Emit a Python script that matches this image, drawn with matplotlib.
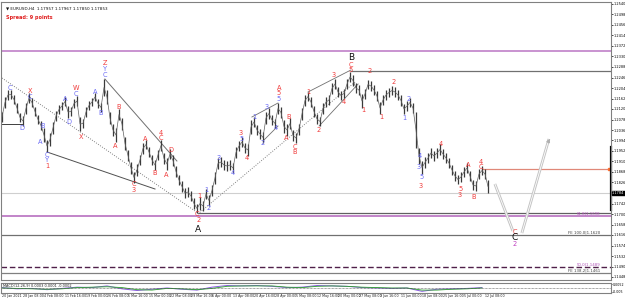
import matplotlib
matplotlib.use('Agg')
import matplotlib.pyplot as plt
import numpy as np

# EURUSD H4 bars (one bar per 3 px in the screenshot)
highs = [1.2108, 1.2168, 1.2196, 1.2196, 1.2176, 1.2144, 1.2104, 1.2092, 1.2144, 1.2184,
         1.2164, 1.2128, 1.2096, 1.2072, 1.2044, 1.1996, 1.2024, 1.2068, 1.2112, 1.2136,
         1.2148, 1.2168, 1.2132, 1.2128, 1.2160, 1.2172, 1.2088, 1.2080, 1.2128, 1.2152,
         1.2164, 1.2184, 1.2160, 1.2144, 1.2240, 1.2196, 1.2108, 1.2060, 1.2044, 1.2120,
         1.2084, 1.2008, 1.1956, 1.1908, 1.1868, 1.1900, 1.1936, 1.1984, 1.1996, 1.1968,
         1.1936, 1.1916, 1.1956, 1.1996, 1.1944, 1.1924, 1.1960, 1.1936, 1.1892, 1.1856,
         1.1832, 1.1804, 1.1808, 1.1792, 1.1764, 1.1740, 1.1768, 1.1752, 1.1800, 1.1776,
         1.1816, 1.1868, 1.1924, 1.1928, 1.1916, 1.1912, 1.1916, 1.1904, 1.1968, 1.1992,
         1.2008, 1.1984, 1.1980, 1.2076, 1.2088, 1.2056, 1.2040, 1.2028, 1.2108, 1.2124,
         1.2096, 1.2080, 1.2144, 1.2128, 1.2076, 1.2060, 1.2084, 1.2036, 1.2024, 1.2060,
         1.2124, 1.2176, 1.2188, 1.2168, 1.2132, 1.2100, 1.2088, 1.2144, 1.2168, 1.2176,
         1.2224, 1.2240, 1.2208, 1.2192, 1.2200, 1.2240, 1.2268, 1.2256, 1.2224, 1.2216,
         1.2180, 1.2200, 1.2236, 1.2232, 1.2216, 1.2192, 1.2148, 1.2176, 1.2196, 1.2204,
         1.2212, 1.2208, 1.2196, 1.2176, 1.2140, 1.2152, 1.2164, 1.2144, 1.2108, 1.1964,
         1.1912, 1.1928, 1.1944, 1.1964, 1.1952, 1.1964, 1.1980, 1.1960, 1.1944, 1.1924,
         1.1896, 1.1872, 1.1856, 1.1868, 1.1888, 1.1904, 1.1872, 1.1836, 1.1832, 1.1880,
         1.1892, 1.1880, 1.1836]
lows = [1.2068, 1.2124, 1.2156, 1.2160, 1.2140, 1.2104, 1.2068, 1.2052, 1.2100, 1.2144,
        1.2128, 1.2092, 1.2060, 1.2036, 1.1988, 1.1948, 1.1972, 1.2020, 1.2072, 1.2100,
        1.2116, 1.2132, 1.2084, 1.2092, 1.2124, 1.2132, 1.2032, 1.2044, 1.2088, 1.2116,
        1.2132, 1.2152, 1.2124, 1.2108, 1.2172, 1.2140, 1.2060, 1.2012, 1.1988, 1.2076,
        1.2036, 1.1956, 1.1912, 1.1860, 1.1824, 1.1852, 1.1896, 1.1940, 1.1960, 1.1928,
        1.1896, 1.1876, 1.1916, 1.1952, 1.1900, 1.1876, 1.1920, 1.1892, 1.1848, 1.1816,
        1.1788, 1.1764, 1.1768, 1.1752, 1.1720, 1.1704, 1.1716, 1.1712, 1.1760, 1.1732,
        1.1772, 1.1820, 1.1880, 1.1888, 1.1876, 1.1872, 1.1876, 1.1864, 1.1924, 1.1952,
        1.1968, 1.1944, 1.1932, 1.2020, 1.2048, 1.2016, 1.2000, 1.1984, 1.2060, 1.2080,
        1.2056, 1.2044, 1.2100, 1.2084, 1.2024, 1.2012, 1.2040, 1.1992, 1.1984, 1.2016,
        1.2076, 1.2132, 1.2152, 1.2128, 1.2088, 1.2060, 1.2052, 1.2100, 1.2128, 1.2136,
        1.2180, 1.2200, 1.2168, 1.2156, 1.2164, 1.2200, 1.2228, 1.2212, 1.2184, 1.2176,
        1.2124, 1.2160, 1.2200, 1.2192, 1.2176, 1.2152, 1.2100, 1.2136, 1.2156, 1.2168,
        1.2176, 1.2168, 1.2156, 1.2132, 1.2100, 1.2112, 1.2128, 1.2104, 1.1964, 1.1900,
        1.1860, 1.1884, 1.1904, 1.1924, 1.1912, 1.1924, 1.1936, 1.1920, 1.1904, 1.1884,
        1.1856, 1.1832, 1.1820, 1.1828, 1.1848, 1.1864, 1.1832, 1.1796, 1.1792, 1.1840,
        1.1856, 1.1840, 1.1784]

# elliott wave labels: bar index, price, text, colour
wave_x = [2.7, 6.7, 9.3, 9.3, 13.7, 12.7, 15, 15, 15, 21, 22.3, 24.7, 24.7, 26.3, 31, 33,
          34.3, 34.3, 34.3, 37.7, 39, 44, 44, 47.7, 51, 53, 53, 54.7, 56.3, 65.7, 65, 65.7,
          65.3, 68, 69, 72.3, 77, 79.7, 79.7, 81.7, 84, 87, 88.3, 91.3, 92.3, 92.3, 92.3,
          94.7, 95.7, 97.7, 97.7, 102, 105.7, 110.7, 114, 116.3, 116.3, 116.3, 120.3, 122.7,
          126.3, 130.7, 134, 135.7, 139.3, 139, 139.7, 139.7, 146.3, 152.7, 152.7, 155.3,
          157.3, 159.7, 159.7, 171, 171, 171]
wave_y = [1.2204, 1.2044, 1.2192, 1.2168, 1.2052, 1.1988, 1.1936, 1.1916, 1.1892, 1.2160,
          1.2068, 1.2204, 1.2180, 1.2008, 1.2188, 1.2104, 1.2304, 1.2280, 1.2256, 1.1972,
          1.2128, 1.1820, 1.1796, 1.2000, 1.1864, 1.2024, 1.2004, 1.1856, 1.1956, 1.1772,
          1.1700, 1.1676, 1.1636, 1.1796, 1.1724, 1.1924, 1.1864, 1.2024, 1.2000, 1.1924,
          1.2088, 1.1984, 1.2128, 1.2044, 1.2204, 1.2184, 1.2160, 1.2004, 1.2088, 1.1968,
          1.1948, 1.2188, 1.2036, 1.2256, 1.2148, 1.2324, 1.2296, 1.2276, 1.2116, 1.2272,
          1.2088, 1.2228, 1.2084, 1.2160, 1.1932, 1.1888, 1.1848, 1.1812, 1.1980, 1.1800,
          1.1776, 1.1896, 1.1768, 1.1908, 1.1888, 1.1628, 1.1604, 1.1580]
wave_txt = ['C', 'D', 'X', 'C', 'B', 'A', 'C', 'Y', '1', 'A', 'D', 'W', 'C', 'X', 'A', 'B',
            'Z', 'Y', 'C', 'A', 'B', 'C', '3', 'A', 'B', '4', 'C', 'A', 'D', '1', 'C', '2',
            'A', '1', '2', '3', '4', '3', '5', '4', '1', '2', '3', '4', 'A', '5', '5',
            'A', 'B', 'C', 'B', '1', '2', '3', '4', 'B', 'C', '5', '1', '2',
            '1', '2', '1', '2', '4', '3', '5', '3', '4', '5', '3', 'A',
            'B', '4', 'C', 'C', 'C', '2']
wave_col = ['b', 'b', 'r', 'b', 'b', 'b', 'b', 'b', 'r', 'b', 'b', 'r', 'b', 'r', 'b', 'b',
            'r', 'b', 'b', 'r', 'r', 'r', 'r', 'r', 'r', 'r', 'r', 'r', 'r', 'r', 'r', 'r',
            'k', 'b', 'b', 'b', 'b', 'r', 'b', 'r', 'b', 'b', 'b', 'b', 'r', 'r', 'b',
            'r', 'r', 'r', 'r', 'r', 'r', 'r', 'r', 'k', 'r', 'r', 'r', 'r',
            'r', 'r', 'b', 'b', 'b', 'b', 'b', 'r', 'r', 'r', 'r', 'r',
            'r', 'r', 'r', 'r', 'k', 'm']

price_ticks = [1.2540, 1.2498, 1.2456, 1.2414, 1.2372, 1.2330, 1.2288, 1.2246, 1.2204,
               1.2162, 1.2120, 1.2078, 1.2036, 1.1994, 1.1952, 1.1910, 1.1868, 1.1826,
               1.1742, 1.1700, 1.1658, 1.1616, 1.1574, 1.1532, 1.1490, 1.1448]
last_price = 1.1784

date_labels = ['20 Jan 2021', '28 Jan 08:00', '4 Feb 08:00', '11 Feb 16:00', '19 Feb 00:00',
               '26 Feb 08:00', '5 Mar 16:00', '15 Mar 00:00', '22 Mar 08:00', '29 Mar 16:00',
               '6 Apr 00:00', '13 Apr 08:00', '20 Apr 16:00', '28 Apr 00:00', '5 May 08:00',
               '12 May 16:00', '20 May 00:00', '27 May 08:00', '3 Jun 16:00', '11 Jun 00:00',
               '18 Jun 08:00', '25 Jun 16:00', '5 Jul 00:00', '12 Jul 08:00']

# oscillator in sub window (one value per 5 bars)
osc_main = [0.1, -0.2, -0.1, -0.4, -0.1, 0.2, 0.1, 0.5, -0.2, -0.6, -0.3, 0.0, -0.3, -0.5,
            0.2, 0.6, 0.5, 0.6, 0.4, 0.1, 0.2, 0.6, 0.5, 0.4, 0.1, 0.0, -0.1, 0.0, -0.8,
            -0.3, -0.2, -0.1, 0.1]
osc_sig = [0.0, -0.1, -0.2, -0.3, -0.2, 0.1, 0.2, 0.3, 0.1, -0.4, -0.5, -0.1, -0.2, -0.4,
           -0.1, 0.4, 0.5, 0.5, 0.5, 0.2, 0.1, 0.4, 0.5, 0.4, 0.2, 0.1, 0.0, 0.0, -0.5,
           -0.5, -0.3, -0.2, 0.0]

colors = {'r': '#f03c3c', 'b': '#6b6bf5', 'k': '#101010', 'm': '#c040c0'}
YLO, YHI = 1.1436, 1.2548
XLO, XHI = -1 / 3, 203.0

fig = plt.figure(figsize=(6.25, 3.01), dpi=100)
ax = fig.add_axes([0.0016, 1 - 280 / 301, 0.976, 278 / 301])
ax.set_xlim(XLO, XHI)
ax.set_ylim(YLO, YHI)

# levels
ax.axhline(1.2352, color='#c080c8', lw=1.2)
ax.axhline(1.1784, color='#cfcfcf', lw=0.8)
ax.axhline(1.1692, color='#b870c0', lw=1.2)
ax.axhline(1.1616, color='#707070', lw=0.9)
ax.axhline(1.1488, color='#50204a', lw=1.0, ls=(0, (4, 2)))
ax.axhline(1.1464, color='#808080', lw=0.9)
ax.plot([116.3, XHI], [1.2272, 1.2272], color='#707070', lw=0.9)
ax.plot([65.3, XHI], [1.1704, 1.1704], color='#606060', lw=0.9)
ax.plot([160, XHI], [1.1880, 1.1880], color='#e08878', lw=0.9)
ax.plot([XHI - 0.6], [1.1880], marker='s', ms=1.5, color='#ff7030')

# trend lines
ax.plot([0, 65.3], [1.2244, 1.1704], color='#808080', lw=0.7, ls=(0, (1, 1.5)))
ax.plot([65.3, 117.7], [1.1700, 1.2228], color='#808080', lw=0.7, ls=(0, (1, 1.5)))
ax.plot([15, 51], [1.1948, 1.1800], color='#505050', lw=0.7)
ax.plot([34.3, 58.3], [1.2240, 1.1912], color='#707070', lw=0.7)
ax.plot([0, 6.7], [1.2060, 1.2060], color='#404040', lw=0.7)
ax.plot([83.3, 92.0], [1.2088, 1.2144], color='#707070', lw=0.6)
ax.plot([87.0, 92.0], [1.1992, 1.2052], color='#707070', lw=0.6)
ax.plot([102, 116.3], [1.2188, 1.2276], color='#707070', lw=0.6)
ax.plot([105.7, 118.7], [1.2052, 1.2220], color='#707070', lw=0.6)

# price bars
idx = np.arange(len(highs))
ax.vlines(idx, lows, highs, color='#3a3a3a', lw=0.9)
mids = (np.array(highs) + np.array(lows)) / 2
ax.plot(idx, mids, color='#606060', lw=0.5)

# projected path
for xs, ys in [([164.3, 170.3], [1.1820, 1.1632]), ([173.3, 182.3], [1.1624, 1.2000])]:
    ax.plot(xs, ys, color='#c4c4c4', lw=2.0, solid_capstyle='butt')
    ax.plot(xs, ys, color='white', lw=0.6, solid_capstyle='butt')
ax.annotate('', xy=(183, 1.2012), xytext=(181.6, 1.1975),
            arrowprops=dict(arrowstyle='-|>', color='#b0b0b0', lw=0.8, mutation_scale=5))

for x, y, t, c in zip(wave_x, wave_y, wave_txt, wave_col):
    fs = 6.5 if c == 'k' else 4.8
    ax.text(x, y, t, color=colors[c], fontsize=fs, ha='center', va='center')

# fib texts
ax.text(199.5, 1.1695, '61.8|1.1698', color='#b050b8', fontsize=2.8, ha='right', va='bottom')
ax.text(199.5, 1.1619, 'FE 100.0|1.1620', color='#404040', fontsize=2.8, ha='right', va='bottom')
ax.text(199.5, 1.1491, '50.0|1.1489', color='#b050b8', fontsize=2.8, ha='right', va='bottom')
ax.text(199.5, 1.1467, 'FE 138.2|1.1461', color='#404040', fontsize=2.8, ha='right', va='bottom')

ax.text(0.008, 0.985, '\u25bc EURUSD,H4  1.17957 1.17967 1.17850 1.17853', transform=ax.transAxes,
        fontsize=3.0, va='top', color='#101010')
ax.text(0.008, 0.955, 'Spread: 9 points', transform=ax.transAxes, fontsize=3.6,
        va='top', color='#e02020', fontweight='bold')

ax.yaxis.tick_right()
ax.set_yticks(price_ticks)
ax.set_yticklabels(['%.4f' % p for p in price_ticks], fontsize=2.5)
ax.tick_params(axis='y', length=1.2, width=0.5, pad=0.6)
ax.set_xticks([])
ax.text(1.0015, (last_price - YLO) / (YHI - YLO), '%.4f' % last_price, transform=ax.transAxes,
        fontsize=2.5, color='white', va='center', ha='left',
        bbox=dict(boxstyle='square,pad=0.1', fc='black', ec='black'))
ax.plot([XHI, XHI], [1.1716, 1.1968], color='black', lw=1.6, clip_on=False)
for s in ax.spines.values():
    s.set_color('#808080')
    s.set_linewidth(0.8)

# sub window
ax2 = fig.add_axes([0.0016, 1 - 293 / 301, 0.976, 10 / 301])
ox = np.arange(len(osc_main)) * 5
ax2.plot(ox, osc_main, color='#8a5ae0', lw=0.7)
ax2.plot(ox, osc_sig, color='#2aa02a', lw=0.6)
ax2.axhline(0, color='#505050', lw=0.5, ls=(0, (1, 1)))
ax2.set_xlim(XLO, XHI)
ax2.set_ylim(-1.2, 1.2)
ax2.set_xticks([])
ax2.yaxis.tick_right()
ax2.set_yticks([0.9, -0.9])
ax2.set_yticklabels(['0.0052', '-0.005'], fontsize=2.3)
ax2.tick_params(axis='y', length=1, width=0.5, pad=0.6)
ax2.text(0.004, 0.92, 'MACD(12,26,9) 0.0003 0.0001 -0.0002', transform=ax2.transAxes,
         fontsize=2.5, va='top', color='#202020')
for s in ax2.spines.values():
    s.set_color('#808080')
    s.set_linewidth(0.8)

for i, lab in enumerate(date_labels):
    ax2.text(i * 7, -1.35, lab, fontsize=2.3, ha='left', va='top', color='#202020',
             transform=ax2.transData, clip_on=False)

fig.savefig('out.png', dpi=100, facecolor='white')
